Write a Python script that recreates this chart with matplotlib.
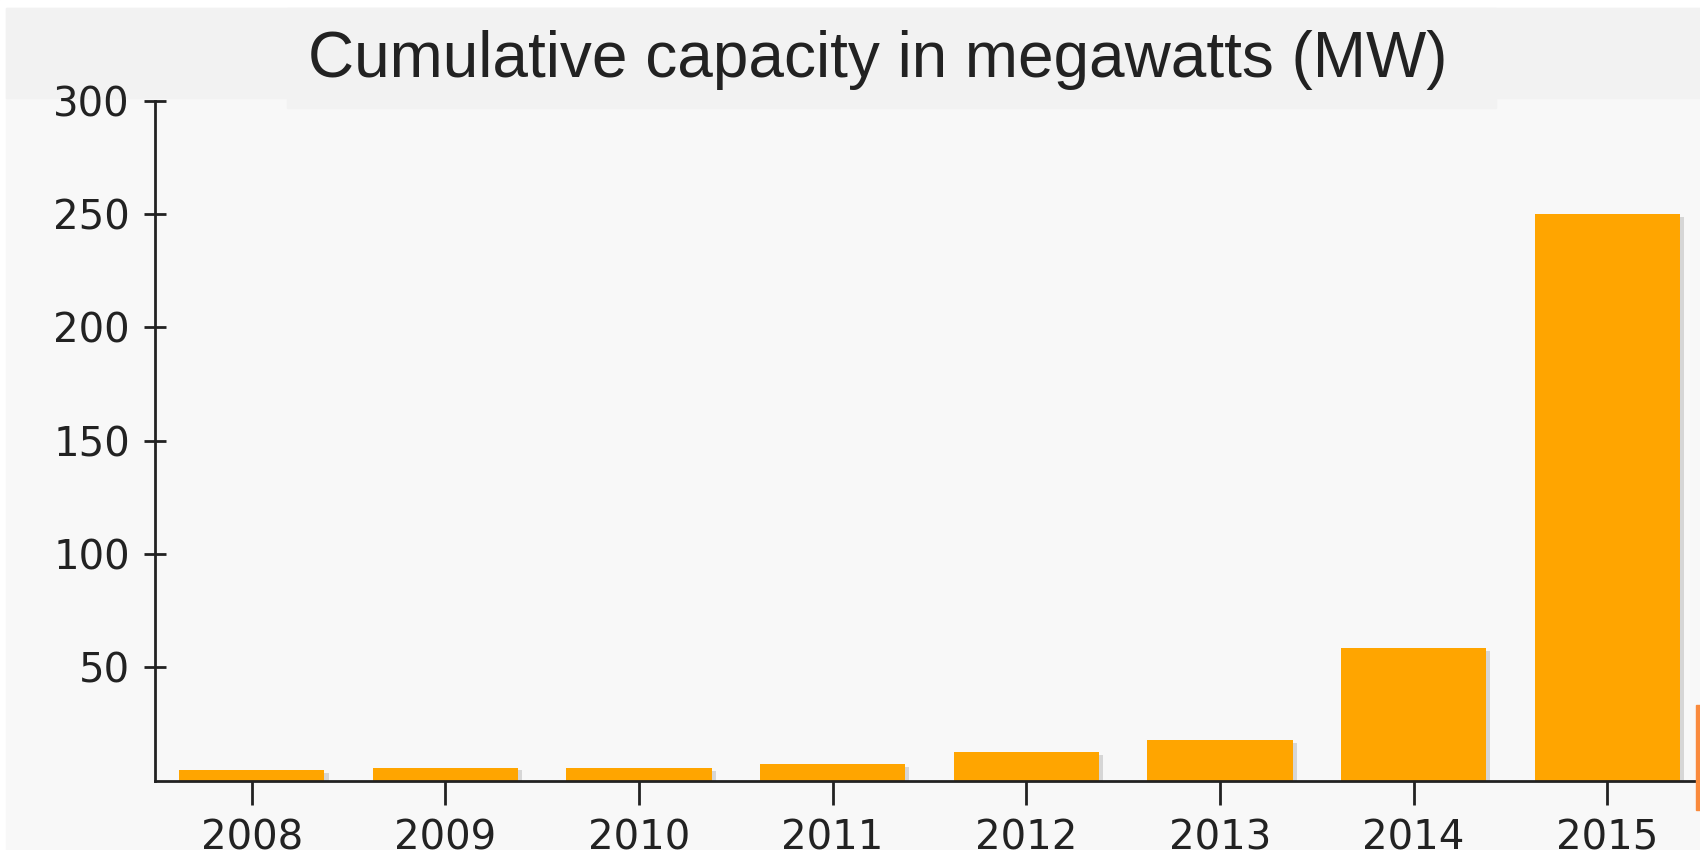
import matplotlib.pyplot as plt
import matplotlib.patheffects as pe
from matplotlib.patches import Rectangle

years = ["2008", "2009", "2010", "2011", "2012", "2013", "2014", "2015"]
capacity_mw = [4.8, 5.7, 5.6, 7.3, 12.6, 18.0, 58.5, 250.0]
y_ticks = [50, 100, 150, 200, 250, 300]

W, H = 1700, 850
fig = plt.figure(figsize=(17, 8.5), dpi=100, facecolor="#f8f8f8")

# white strip at top/left, grey title band
fig.patches.append(Rectangle((0, 0), 1, 1, transform=fig.transFigure,
                             color="white", zorder=-3))
fig.patches.append(Rectangle((6 / W, 0), 1, 1 - 8 / H, transform=fig.transFigure,
                             color="#f8f8f8", zorder=-2))
fig.patches.append(Rectangle((6 / W, 1 - 98 / H), 1, 90 / H, transform=fig.transFigure,
                             color="#f2f2f2", zorder=-1))
fig.patches.append(Rectangle((287 / W, 1 - 108 / H), (1496 - 287) / W, 100 / H,
                             transform=fig.transFigure, color="#f2f2f2", zorder=-1))
# orange sliver at the right edge
fig.patches.append(Rectangle((1696 / W, 1 - 810 / H), 4 / W, 105 / H,
                             transform=fig.transFigure, color="#fa8a3c", zorder=5))

ax = fig.add_axes([155 / W, 1 - 780.6 / H, 1549 / W, (780.6 - 100.8) / H])
ax.set_facecolor("none")

bars = ax.bar(range(len(years)), capacity_mw, width=0.75, color="#ffa500",
              zorder=3)
for b in bars:
    b.set_path_effects([pe.SimplePatchShadow(offset=(3, -2), shadow_rgbFace="#999999",
                                             alpha=0.35), pe.Normal()])

ax.set_xlim(-0.5, 7.5)
ax.set_ylim(0, 300)
ax.set_xticks(range(len(years)))
ax.set_xticklabels(years)
ax.set_yticks(y_ticks)

for s in ["top", "right"]:
    ax.spines[s].set_visible(False)
for s in ["left", "bottom"]:
    ax.spines[s].set_color("#222222")
    ax.spines[s].set_linewidth(2)
    ax.spines[s].set_zorder(4)

ax.tick_params(axis="x", direction="out", length=17, width=2, color="#222222",
               pad=10, labelsize=29, labelcolor="#222222")
ax.tick_params(axis="y", direction="inout", length=16, width=2, color="#222222",
               pad=10, labelsize=29, labelcolor="#222222")
for lab in ax.get_xticklabels() + ax.get_yticklabels():
    lab.set_family("DejaVu Sans")

fig.text(878 / W, 1 - 60 / H, "Cumulative capacity in megawatts (MW)",
         ha="center", va="center", fontsize=46, color="#222222",
         family="Liberation Sans")

fig.savefig("out.png", dpi=100, facecolor=fig.get_facecolor())
